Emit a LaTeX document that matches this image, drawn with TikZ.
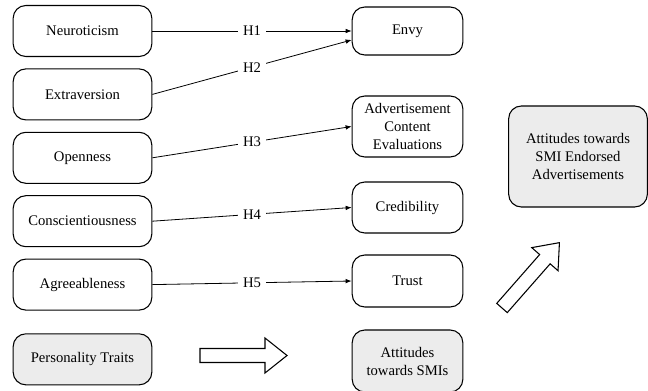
\documentclass[tikz,border=0pt]{standalone}
\usepackage{fontspec}
\setmainfont{Liberation Serif}
\usetikzlibrary{arrows.meta}
\usetikzlibrary{positioning}

\begin{document}
\begin{tikzpicture}[x=0.75pt, y=-0.75pt,
    font=\fontsize{11}{13.5}\selectfont,
    trait/.style = {draw, thick, rounded corners=9.5pt, minimum width=104pt, minimum height=38.25pt, align=center},
    outcome/.style = {draw, thick, rounded corners=9.5pt, minimum width=83pt, minimum height=36pt, align=center},
    overall/.style = {fill=gray!15},
    hyp/.style = {-{Latex[length=4.5pt,width=3.5pt]}, semithick},
    hlabel/.style = {midway, fill=white, inner xsep=4pt, inner ysep=1pt},
    bigarrow/.pic = {\draw[thick] (0,-7) -- (65,-7) -- (65,-17.5) -- (87,0) -- (65,17.5) -- (65,7) -- (0,7) -- cycle;}]
    \useasboundingbox (0,0) rectangle (648,391);

    % personality traits
    \node[trait] (neuro) at (82.5,31) {Neuroticism};
    \node[trait, below=8.5pt of neuro] (extra) {Extraversion};
    \node[trait, below=8.5pt of extra] (open) {Openness};
    \node[trait, below=8.5pt of open] (consc) {Conscientiousness};
    \node[trait, below=8.5pt of consc] (agree) {Agreeableness};
    \node[trait, overall, below=17pt of agree] (traits) {Personality Traits};

    % attitudes towards SMIs
    \node[outcome] (envy) at (407.5,31) {Envy};
    \node[outcome, minimum height=45.75pt] (adcont) at (407.5,126.5) {Advertisement\\Content\\Evaluations};
    \node[outcome, minimum height=38.25pt] (cred) at (407.5,207.5) {Credibility};
    \node[outcome, minimum height=39pt] (trust) at (407.5,281) {Trust};
    \node[outcome, overall, minimum height=46.5pt] (attsmi) at (407.5,361) {Attitudes\\towards SMIs};

    \node[trait, overall, minimum height=75.75pt] (attad) at (578,156.5) {Attitudes towards\\SMI Endorsed\\Advertisements};

    % hypotheses
    \draw[hyp] (neuro.east) -- (envy.west) node[hlabel] {H1};
    \draw[hyp] (extra.east) -- ([yshift=-6.75pt]envy.west) node[hlabel] {H2};
    \draw[hyp] (open.east) -- (adcont.west) node[hlabel] {H3};
    \draw[hyp] (consc.east) -- (cred.west) node[hlabel] {H4};
    \draw[hyp] (agree.east) -- (trust.west) node[hlabel] {H5};

    \pic at (200,355.5) {bigarrow};
    \pic[rotate=48.7] at (502,308) {bigarrow};
\end{tikzpicture}
\end{document}
